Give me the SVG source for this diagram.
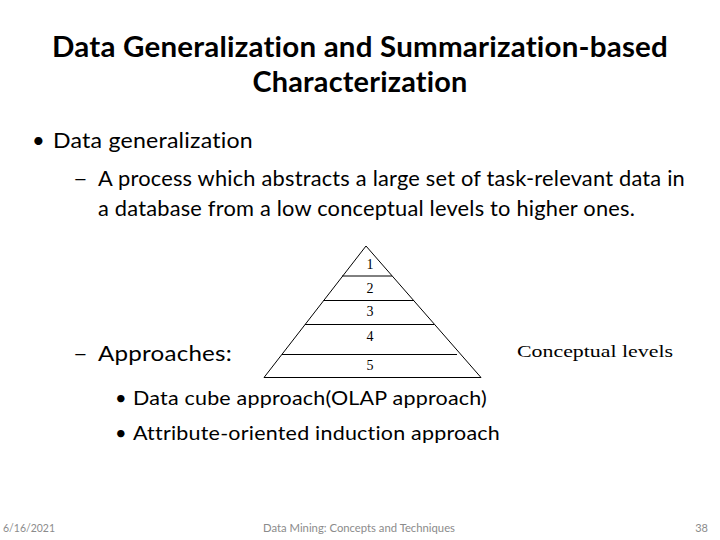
<svg xmlns="http://www.w3.org/2000/svg" width="720" height="540" viewBox="0 0 720 540">
<style>
.t{font-family:Lato,"Open Sans","Liberation Sans",sans-serif;fill:#000;font-variant-ligatures:none;font-feature-settings:"liga" 0,"clig" 0;letter-spacing:0.2px}
.title{font-size:29px;font-weight:bold;text-anchor:middle}
.b1{font-size:22px}
.b2{font-size:20px}
.ft{font-family:Lato,"Liberation Sans",sans-serif;font-size:11px;fill:#8b8b8b}
.num{font-family:"Liberation Serif",serif;font-size:14px;text-anchor:middle}
.cl{font-family:"Liberation Serif",serif;font-size:16px}
.ln{stroke:#000;stroke-width:1;fill:none}
</style>
<rect width="720" height="540" fill="#fff"/>
<g id="title">
<text class="t title" x="360" y="57" textLength="616" lengthAdjust="spacingAndGlyphs">Data Generalization and Summarization-based</text>
<text class="t title" x="360" y="92" textLength="215" lengthAdjust="spacingAndGlyphs">Characterization</text>
</g>
<g id="bullets">
<text class="t b1" x="32" y="148" font-size="18">•</text>
<text class="t b1" x="53" y="148" textLength="200" lengthAdjust="spacingAndGlyphs">Data generalization</text>
<text class="t b1" x="73" y="186" textLength="15" lengthAdjust="spacingAndGlyphs">–</text>
<text class="t b1" x="98" y="186" textLength="587" lengthAdjust="spacingAndGlyphs">A process which abstracts a large set of task-relevant data in</text>
<text class="t b1" x="98" y="216" textLength="537" lengthAdjust="spacingAndGlyphs">a database from a low conceptual levels to higher ones.</text>
<text class="t b1" x="73" y="361" textLength="15" lengthAdjust="spacingAndGlyphs">–</text>
<text class="t b1" x="98" y="361" textLength="134" lengthAdjust="spacingAndGlyphs">Approaches:</text>
<text class="t b2" x="115" y="405" font-size="16">•</text>
<text class="t b2" x="133" y="405" textLength="354" lengthAdjust="spacingAndGlyphs">Data cube approach(OLAP approach)</text>
<text class="t b2" x="115" y="440" font-size="16">•</text>
<text class="t b2" x="133" y="440" textLength="367" lengthAdjust="spacingAndGlyphs">Attribute-oriented induction approach</text>
</g>
<g id="pyramid">
<polygon class="ln" points="366,246 264,377.5 481,377.5"/>
<line class="ln" x1="342" y1="276" x2="392" y2="276"/>
<line class="ln" x1="323.5" y1="300.5" x2="414" y2="300.5"/>
<line class="ln" x1="305" y1="324.5" x2="434" y2="324.5"/>
<line class="ln" x1="282" y1="354.5" x2="457" y2="354.5"/>
<text class="num" x="370" y="269">1</text>
<text class="num" x="370" y="293">2</text>
<text class="num" x="370" y="316">3</text>
<text class="num" x="370" y="341">4</text>
<text class="num" x="370" y="370">5</text>
</g>
<g id="label">
<text class="cl" x="517" y="357" textLength="156" lengthAdjust="spacingAndGlyphs">Conceptual levels</text>
</g>
<g id="footer">
<text class="ft" x="3" y="532" textLength="52" lengthAdjust="spacingAndGlyphs">6/16/2021</text>
<text class="ft" x="263" y="532" textLength="192" lengthAdjust="spacingAndGlyphs">Data Mining: Concepts and Techniques</text>
<text class="ft" x="708" y="532" text-anchor="end">38</text>
</g>
</svg>
